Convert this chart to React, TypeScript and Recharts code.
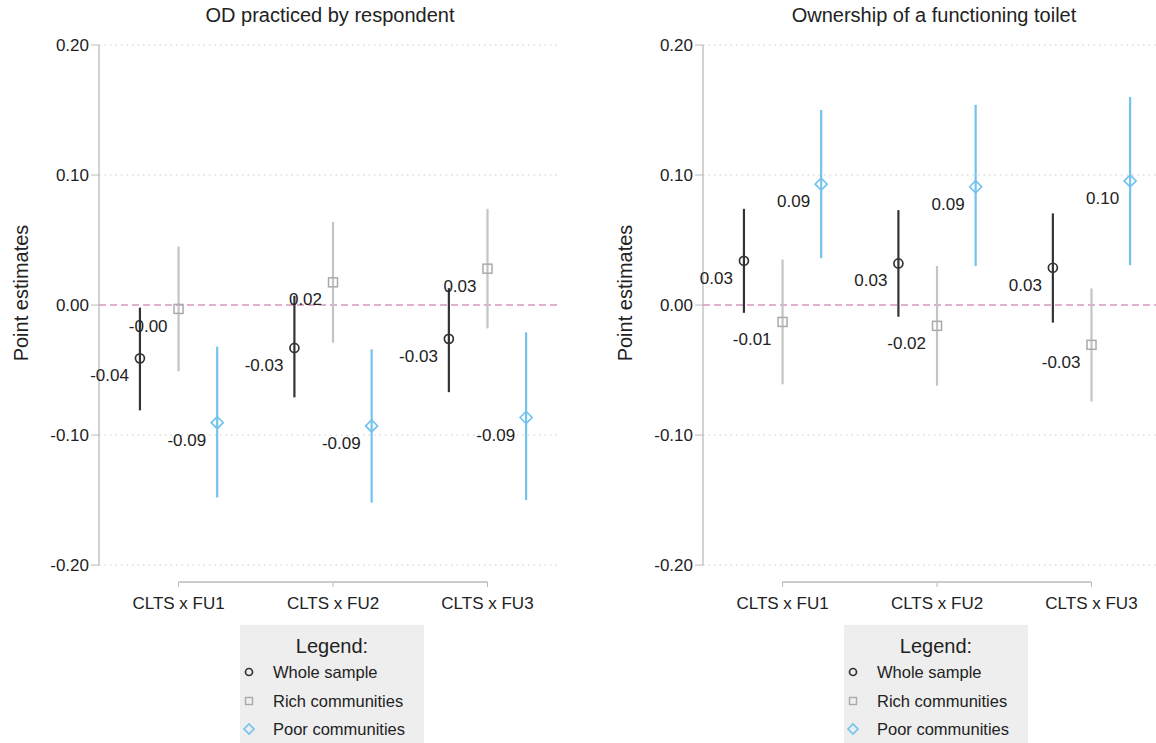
import React from "react";
import {
  ScatterChart,
  Scatter,
  XAxis,
  YAxis,
  ReferenceLine,
  ErrorBar,
} from "recharts";

const categories = ["CLTS x FU1", "CLTS x FU2", "CLTS x FU3"];
const yTicks = [-0.2, -0.1, 0, 0.1, 0.2];
const gridValues = [-0.2, -0.1, 0.1, 0.2];

// OD practiced by respondent
const odWholeEst = [-0.041, -0.033, -0.026];
const odWholeLo = [-0.081, -0.071, -0.067];
const odWholeHi = [-0.002, 0.007, 0.013];
const odRichEst = [-0.003, 0.0175, 0.028];
const odRichLo = [-0.051, -0.029, -0.018];
const odRichHi = [0.045, 0.064, 0.074];
const odPoorEst = [-0.0905, -0.093, -0.0865];
const odPoorLo = [-0.148, -0.152, -0.15];
const odPoorHi = [-0.032, -0.034, -0.021];

// Ownership of a functioning toilet
const toiletWholeEst = [0.034, 0.032, 0.0287];
const toiletWholeLo = [-0.006, -0.009, -0.0135];
const toiletWholeHi = [0.074, 0.073, 0.0705];
const toiletRichEst = [-0.013, -0.016, -0.0306];
const toiletRichLo = [-0.061, -0.062, -0.0741];
const toiletRichHi = [0.035, 0.03, 0.0127];
const toiletPoorEst = [0.093, 0.091, 0.0955];
const toiletPoorLo = [0.036, 0.03, 0.0306];
const toiletPoorHi = [0.15, 0.154, 0.16];

const FONT = "'Liberation Sans', Arial, Helvetica, sans-serif";
const TEXT = "#222";
const WHOLE = "#333333";
const RICH = "#c4c4c4";
const RICH_MARK = "#aaaaaa";
const POOR = "#74c3ee";
const X_DOMAIN: [number, number] = [0.485, 3.45];
const Y_MIN = -0.213;

function buildPoints(est: number[], lo: number[], hi: number[], offset: number) {
  return est.map((v, i) => ({
    x: i + 1 + offset,
    y: v,
    err: [v - lo[i], hi[i] - v],
    label: v.toFixed(2),
  }));
}

function PointLabel({ cx, cy, text }: any) {
  return (
    <text x={cx - 11} y={cy + 23} textAnchor="end" fontSize={17} fill={TEXT} fontFamily={FONT}>
      {text}
    </text>
  );
}

const circleShape = (p: any) => (
  <g>
    <circle cx={p.cx} cy={p.cy} r={4.5} fill="none" stroke={WHOLE} strokeWidth={1.7} />
    <PointLabel cx={p.cx} cy={p.cy} text={p.payload.label} />
  </g>
);

const squareShape = (p: any) => (
  <g>
    <rect x={p.cx - 4.5} y={p.cy - 4.5} width={9} height={9} fill="none" stroke={RICH_MARK} strokeWidth={1.5} />
    <PointLabel cx={p.cx} cy={p.cy} text={p.payload.label} />
  </g>
);

const diamondShape = (p: any) => (
  <g>
    <path
      d={`M${p.cx - 6},${p.cy} L${p.cx},${p.cy - 6} L${p.cx + 6},${p.cy} L${p.cx},${p.cy + 6} Z`}
      fill="none"
      stroke={POOR}
      strokeWidth={1.7}
    />
    <PointLabel cx={p.cx} cy={p.cy} text={p.payload.label} />
  </g>
);

function Panel({ title, whole, rich, poor, left }: any) {
  return (
    <div style={{ position: "absolute", left, top: 0, width: 578, height: 625 }}>
      <div
        style={{
          position: "absolute",
          left: 99,
          width: 462,
          top: 3,
          textAlign: "center",
          fontSize: 20,
          lineHeight: "24px",
          color: TEXT,
          whiteSpace: "nowrap",
        }}
      >
        {title}
      </div>
      <ScatterChart width={578} height={625} margin={{ top: 45, right: 21, bottom: 3, left: 0 }}>
        <XAxis
          type="number"
          dataKey="x"
          domain={X_DOMAIN}
          ticks={[1, 2, 3]}
          tickFormatter={(v: number) => categories[v - 1]}
          axisLine={false}
          tickLine={{ stroke: "#bbbbbb" }}
          tickSize={5}
          tickMargin={10}
          height={40}
          tick={{ fontSize: 17, fill: TEXT, fontFamily: FONT }}
        />
        <YAxis
          type="number"
          dataKey="y"
          domain={[Y_MIN, 0.2]}
          ticks={yTicks}
          tickFormatter={(v: number) => v.toFixed(2)}
          axisLine={false}
          tickLine={{ stroke: "#bbbbbb" }}
          tickSize={8}
          tickMargin={2}
          width={99}
          tick={{ fontSize: 17, fill: TEXT, fontFamily: FONT }}
          label={{
            content: () => (
              <text
                x={21}
                y={293}
                transform="rotate(-90, 21, 293)"
                textAnchor="middle"
                dominantBaseline="central"
                fontSize={20}
                fill={TEXT}
                fontFamily={FONT}
              >
                Point estimates
              </text>
            ),
          }}
        />
        {gridValues.map((v) => (
          <ReferenceLine key={v} y={v} stroke="#cccccc" strokeDasharray="1.5 4" />
        ))}
        <ReferenceLine
          segment={[
            { x: X_DOMAIN[0], y: -0.2 },
            { x: X_DOMAIN[0], y: 0.2 },
          ]}
          stroke="#bbbbbb"
          strokeWidth={1.3}
        />
        <ReferenceLine
          segment={[
            { x: 1, y: Y_MIN },
            { x: 3, y: Y_MIN },
          ]}
          stroke="#bbbbbb"
          strokeWidth={1.3}
        />
        <ReferenceLine y={0} stroke="#d796c0" strokeWidth={1.5} strokeDasharray="7 4" />
        <Scatter data={whole} shape={circleShape} isAnimationActive={false}>
          <ErrorBar dataKey="err" direction="y" width={0} stroke={WHOLE} strokeWidth={2.2} isAnimationActive={false} />
        </Scatter>
        <Scatter data={rich} shape={squareShape} isAnimationActive={false}>
          <ErrorBar dataKey="err" direction="y" width={0} stroke={RICH} strokeWidth={2.2} isAnimationActive={false} />
        </Scatter>
        <Scatter data={poor} shape={diamondShape} isAnimationActive={false}>
          <ErrorBar dataKey="err" direction="y" width={0} stroke={POOR} strokeWidth={2.2} isAnimationActive={false} />
        </Scatter>
      </ScatterChart>
    </div>
  );
}

function LegendBox({ left }: { left: number }) {
  const items = [
    { name: "Whole sample", y: 672, kind: "circle" },
    { name: "Rich communities", y: 701, kind: "square" },
    { name: "Poor communities", y: 729, kind: "diamond" },
  ];
  return (
    <svg
      style={{ position: "absolute", left, top: 625 }}
      width={184}
      height={118}
      fontFamily={FONT}
    >
      <rect x={0} y={0} width={184} height={118} fill="#eeeeee" />
      <text x={92} y={28} textAnchor="middle" fontSize={20} fill={TEXT}>
        Legend:
      </text>
      {items.map((it) => {
        const cy = it.y - 625;
        const cx = 9;
        let mark;
        if (it.kind === "circle")
          mark = <circle cx={cx} cy={cy} r={3.5} fill="none" stroke={WHOLE} strokeWidth={1.7} />;
        else if (it.kind === "square")
          mark = <rect x={cx - 3.5} y={cy - 3.5} width={7} height={7} fill="none" stroke={RICH_MARK} strokeWidth={1.4} />;
        else
          mark = (
            <path
              d={`M${cx - 5},${cy} L${cx},${cy - 5} L${cx + 5},${cy} L${cx},${cy + 5} Z`}
              fill="none"
              stroke={POOR}
              strokeWidth={1.7}
            />
          );
        return (
          <g key={it.name}>
            {mark}
            <text x={33} y={cy + 6} fontSize={16.5} fill={TEXT}>
              {it.name}
            </text>
          </g>
        );
      })}
    </svg>
  );
}

export default function App() {
  return (
    <div
      style={{
        position: "absolute",
        left: 0,
        top: 0,
        width: 1156,
        height: 743,
        overflow: "hidden",
        background: "#fff",
        fontFamily: FONT,
      }}
    >
      <Panel
        left={0}
        title="OD practiced by respondent"
        whole={buildPoints(odWholeEst, odWholeLo, odWholeHi, -0.25)}
        rich={buildPoints(odRichEst, odRichLo, odRichHi, 0)}
        poor={buildPoints(odPoorEst, odPoorLo, odPoorHi, 0.25)}
      />
      <Panel
        left={604}
        title="Ownership of a functioning toilet"
        whole={buildPoints(toiletWholeEst, toiletWholeLo, toiletWholeHi, -0.25)}
        rich={buildPoints(toiletRichEst, toiletRichLo, toiletRichHi, 0)}
        poor={buildPoints(toiletPoorEst, toiletPoorLo, toiletPoorHi, 0.25)}
      />
      <LegendBox left={240} />
      <LegendBox left={844} />
    </div>
  );
}
